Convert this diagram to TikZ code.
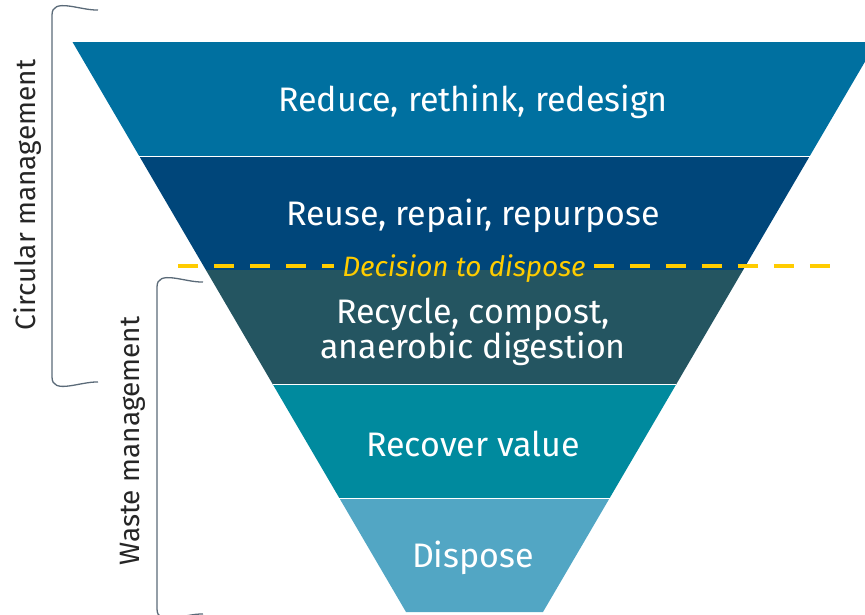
\documentclass[tikz,border=0pt]{standalone}
\usepackage{fontspec}
\setmainfont{Fira Sans}
\usetikzlibrary{positioning}

\definecolor{reduceblue}{HTML}{0070A0}
\definecolor{reuseblue}{HTML}{00467A}
\definecolor{recycleteal}{HTML}{245561}
\definecolor{recoverteal}{HTML}{008A9E}
\definecolor{disposeblue}{HTML}{52A6C4}
\definecolor{decisiongold}{HTML}{FFCC00}
\definecolor{bracketgray}{HTML}{5A6A78}

\tikzset{
    band/.style={draw=white, line width=0.8pt},
    bandlabel/.style={text=white, font=\fontsize{34}{35}\selectfont, align=center},
    sidelabel/.style={text=black!85, font=\fontsize{28}{30}\selectfont, rotate=90},
    bracket/.style={draw=bracketgray, line width=1.3pt},
    disposeline/.style={draw=decisiongold, line width=3.5pt, dash pattern=on 20pt off 16pt},
}

\begin{document}
\begin{tikzpicture}[x=1pt, y=-1pt]
        \useasboundingbox (0,0) rectangle (865,614);
        \clip (0,0) rectangle (865,614);

        % funnel bands
        \fill[reduceblue] (72.5,42) -- (876.5,42) -- (809.8,156) -- (139.2,156) -- cycle;
        \fill[reuseblue] (139.2,156) -- (809.8,156) -- (743.1,270) -- (205.9,270) -- cycle;
        \fill[recycleteal] (205.9,270) -- (743.1,270) -- (676.4,384) -- (272.6,384) -- cycle;
        \fill[recoverteal] (272.6,384) -- (676.4,384) -- (609.7,498) -- (339.3,498) -- cycle;
        \fill[disposeblue] (339.3,498) -- (609.7,498) -- (543,612) -- (406,612) -- cycle;

        \draw[band] (139.2,156) -- (809.8,156);
        \draw[band] (272.6,384) -- (676.4,384);
        \draw[band] (339.3,498) -- (609.7,498);

        \node[bandlabel] (reduce) at (473,102) {Reduce, rethink, redesign};
        \node[bandlabel] (reuse) at (473,216) {Reuse, repair, repurpose};
        \node[bandlabel] (recycle) at (473,332) {Recycle, compost,\\anaerobic digestion};
        \node[bandlabel] (recover) at (473,444) {Recover value};
        \node[bandlabel] (dispose) at (473,558) {Dispose};

        % decision line
        \node[text=decisiongold, font=\fontsize{28}{30}\selectfont\itshape, inner sep=8pt] (decision) at (464,269) {Decision to dispose};
        \coordinate (cutleft) at (178,266);
        \coordinate (cutright) at (835,266);
        \draw[disposeline] (cutleft) -- (decision.west |- cutleft);
        \draw[disposeline] (decision.east |- cutright) -- (cutright);

        % brackets
        \draw[bracket] (98,10) to[out=182,in=90] (52,15) -- (52,377) to[out=-90,in=178] (98,382);
        \draw[bracket] (203,282) to[out=182,in=90] (157,287) -- (157,609) to[out=-90,in=178] (203,614);

        \node[sidelabel] (circular) at (28,195) {Circular management};
        \node[sidelabel] (waste) at (133,441) {Waste management};
    \end{tikzpicture}
\end{document}
